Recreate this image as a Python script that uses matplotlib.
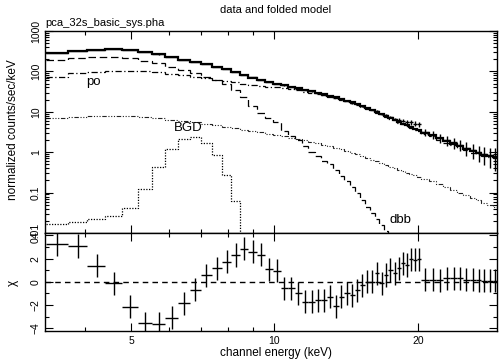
import matplotlib
matplotlib.use("Agg")
import matplotlib.pyplot as plt
from matplotlib.ticker import FixedLocator, NullFormatter, FixedFormatter
import numpy as np

plt.rcParams['font.family'] = ['Liberation Sans', 'DejaVu Sans']

# ---- data ----
bin_edges = [3.31, 3.68, 4.05, 4.42, 4.79, 5.16, 5.53, 5.90, 6.27, 6.64, 7.01, 7.38,
             7.75, 8.12, 8.45, 8.82, 9.19, 9.56, 9.93, 10.30, 10.67, 11.04, 11.41,
             11.78, 12.15, 12.52, 12.89, 13.26, 13.63, 14.00, 14.37, 14.74, 15.11,
             15.48, 15.85, 16.22, 16.59, 16.96, 17.33, 17.70, 18.07, 18.44, 18.81,
             19.18, 19.55, 19.92, 20.33, 21.10, 21.86, 22.62, 23.38, 24.14, 24.90,
             25.66, 26.42, 27.18, 27.94, 28.70, 29.46]

total_model = [283, 320, 340, 350, 338, 300, 265, 225, 195, 170, 150, 131, 113, 96, 82,
               70, 61, 55, 49, 45, 41, 38, 35, 32.5, 30, 27.5, 25, 23, 21, 19, 17.3,
               15.6, 14, 12.6, 11.3, 10.1, 9.0, 8.0, 7.1, 6.4, 5.7, 5.1, 4.6, 4.2, 3.8,
               3.5, 3.05, 2.6, 2.2, 1.85, 1.6, 1.4, 1.2, 1.05, 0.95, 0.87, 0.8, 0.75]

dbb_model = [190, 215, 225, 222, 210, 185, 160, 131, 108, 90, 74, 62, 48, 35, 23, 14,
             9.5, 7.0, 5.5, 3.4, 2.5, 2.0, 1.4, 1.0, 0.8, 0.62, 0.5, 0.36, 0.26, 0.19,
             0.14, 0.1, 0.066, 0.045, 0.031, 0.022, 0.016, 0.011, 0.0075]

po_model = [72, 90, 98, 104, 104, 100, 95, 88, 80, 72, 67, 62, 58, 54, 50, 47, 44.5,
            42, 40, 38, 36, 34, 31.8, 30, 28, 25.8, 23.6, 21.7, 19.8, 18, 16.4, 14.8,
            13.3, 12, 10.8, 9.6, 8.6, 7.6, 6.8, 6.1, 5.4, 4.85, 4.35, 3.95, 3.6, 3.3,
            2.85, 2.45, 2.05, 1.72, 1.5, 1.3, 1.12, 0.98, 0.88, 0.81, 0.75, 0.7]

bgd_model = [6.9, 7.6, 7.9, 8.0, 7.9, 7.6, 7.0, 6.4, 6.0, 5.6, 5.1, 4.7, 4.3, 3.95,
             3.6, 3.35, 3.1, 2.85, 2.65, 2.45, 2.28, 2.1, 1.95, 1.8, 1.65, 1.52, 1.4,
             1.28, 1.17, 1.07, 0.97, 0.88, 0.8, 0.72, 0.65, 0.59, 0.53, 0.48, 0.44,
             0.4, 0.37, 0.34, 0.31, 0.29, 0.27, 0.25, 0.22, 0.19, 0.16, 0.135, 0.115,
             0.1, 0.087, 0.075, 0.065, 0.056, 0.049, 0.043]

line_model = [0.0167, 0.019, 0.022, 0.026, 0.041, 0.12, 0.44, 1.18, 2.1, 2.35, 1.66,
              0.85, 0.27, 0.063, 0.001]

chi = [3.25, 3.08, 1.38, -0.14, -2.15, -3.58, -3.6, -3.07, -1.86, -0.66, 0.55, 1.16,
       1.72, 2.3, 2.85, 2.6, 2.35, 1.07, 0.95, -0.57, -0.57, -1.0, -1.72, -1.72, -1.58,
       -1.58, -1.29, -2.1, -1.29, -1.0, -1.15, -0.72, -0.29, 0.0, 0.0, 0.72, -0.14,
       0.58, 1.01, 0.72, 1.15, 1.58, 1.44, 1.93, 1.9, 1.95, 0.2, 0.2, 0.14, 0.29, 0.29,
       0.29, 0.2, 0.2, 0.14, 0.09, 0.09, 0.1]

rel_err = [0.003] * 10 + [0.005] * 5 + [0.008] * 5 + [0.012] * 5 + [0.02] * 5 + \
          [0.035] * 5 + [0.06] * 5 + [0.1, 0.12, 0.14, 0.16, 0.18, 0.2] + \
          [0.22, 0.25, 0.28, 0.3, 0.33, 0.36, 0.4, 0.43, 0.47, 0.5, 0.55, 0.6]

x_major = [5, 10, 20]
x_minor = [4, 6, 7, 8, 9]
y_top_ticks = [0.01, 0.1, 1, 10, 100, 1000]
y_top_labels = ['0.01', '0.1', '1', '10', '100', '1000']
y_bot_ticks = [-4, -2, 0, 2, 4]
y_bot_minor = [-3, -1, 1, 3]

# ---- derived ----
edges = np.array(bin_edges)
centers = 0.5 * (edges[:-1] + edges[1:])
halfw = 0.5 * (edges[1:] - edges[:-1])
tot = np.array(total_model)
sig = tot * np.array(rel_err)
data = tot + np.array(chi) * sig

W, H = 500, 362
fig = plt.figure(figsize=(W / 100, H / 100), dpi=100)
x0, x1 = 45 / W, 497 / W
ax = fig.add_axes([x0, 1 - 233 / H, x1 - x0, (233 - 31) / H])
axr = fig.add_axes([x0, 1 - 330.7 / H, x1 - x0, (330.7 - 233) / H], sharex=ax)

fs = 7.5
# top panel
ax.stairs(tot, edges, color='k', lw=1.6, baseline=None)
ax.stairs(dbb_model, edges[:len(dbb_model) + 1], color='k', lw=0.9,
          linestyle=(0, (6, 3)), baseline=None)
ax.stairs(po_model, edges[:len(po_model) + 1], color='k', lw=0.9,
          linestyle=(0, (5, 2, 1, 2)), baseline=None)
ax.stairs(bgd_model, edges[:len(bgd_model) + 1], color='#222222', lw=0.8,
          linestyle=(0, (4, 1.5, 1, 1.5, 1, 1.5, 1, 1.5)), baseline=None)
ax.stairs(line_model, edges[:len(line_model) + 1], color='k', lw=0.9,
          linestyle=(0, (1, 1.2)), baseline=None)
ax.errorbar(centers, data, xerr=halfw, yerr=sig, fmt='none', ecolor='k',
            elinewidth=1.0, capsize=0)

ax.set_xscale('log')
ax.set_yscale('log')
ax.set_xlim(3.3, 29.3)
ax.set_ylim(0.01, 1000)

ax.text(93 / W, 1 - 82 / H, 'po', fontsize=9.5, ha='center', va='center',
        transform=fig.transFigure)
ax.text(188 / W, 1 - 128 / H, 'BGD', fontsize=9.5, ha='center', va='center',
        transform=fig.transFigure)
ax.text(400 / W, 1 - 220 / H, 'dbb', fontsize=9.5, ha='center', va='center',
        transform=fig.transFigure)

# bottom panel
axr.axhline(0, color='k', lw=1.0, linestyle=(0, (4, 3)))
axr.errorbar(centers, chi, xerr=halfw, yerr=1.0, fmt='none', ecolor='k',
             elinewidth=1.0, capsize=0)
axr.set_ylim(-4.2, 4.2)

for a in (ax, axr):
    a.tick_params(which='both', direction='in', top=True, right=True,
                  labelsize=fs, width=0.8)
    a.tick_params(which='major', length=6)
    a.tick_params(which='minor', length=3)
    for s in a.spines.values():
        s.set_linewidth(1.0)

axr.xaxis.set_major_locator(FixedLocator(x_major))
axr.xaxis.set_minor_locator(FixedLocator(x_minor))
axr.xaxis.set_major_formatter(FixedFormatter([str(v) for v in x_major]))
axr.xaxis.set_minor_formatter(NullFormatter())
plt.setp(ax.get_xticklabels(), visible=False)

ax.yaxis.set_major_locator(FixedLocator(y_top_ticks))
ax.yaxis.set_major_formatter(FixedFormatter(y_top_labels))
axr.yaxis.set_major_locator(FixedLocator(y_bot_ticks))
axr.yaxis.set_minor_locator(FixedLocator(y_bot_minor))
for a in (ax, axr):
    a.tick_params(axis='y', labelrotation=90, pad=3)
    for lab in a.get_yticklabels():
        lab.set_verticalalignment('center')
axr.tick_params(axis='x', pad=4)

fig.text(276 / W, 1 - 10 / H, 'data and folded model', fontsize=8,
         ha='center', va='center')
fig.text(45 / W, 1 - 23 / H, 'pca_32s_basic_sys.pha', fontsize=8,
         ha='left', va='center')
fig.text(13 / W, 1 - 130 / H, 'normalized counts/sec/keV', fontsize=8.5,
         rotation=90, ha='center', va='center')
fig.text(13 / W, 1 - 283 / H, 'χ', fontsize=8.5, rotation=90,
         ha='center', va='center')
fig.text(276 / W, 1 - 353 / H, 'channel energy (keV)', fontsize=8.5,
         ha='center', va='center')

fig.savefig('out.png', dpi=100)
